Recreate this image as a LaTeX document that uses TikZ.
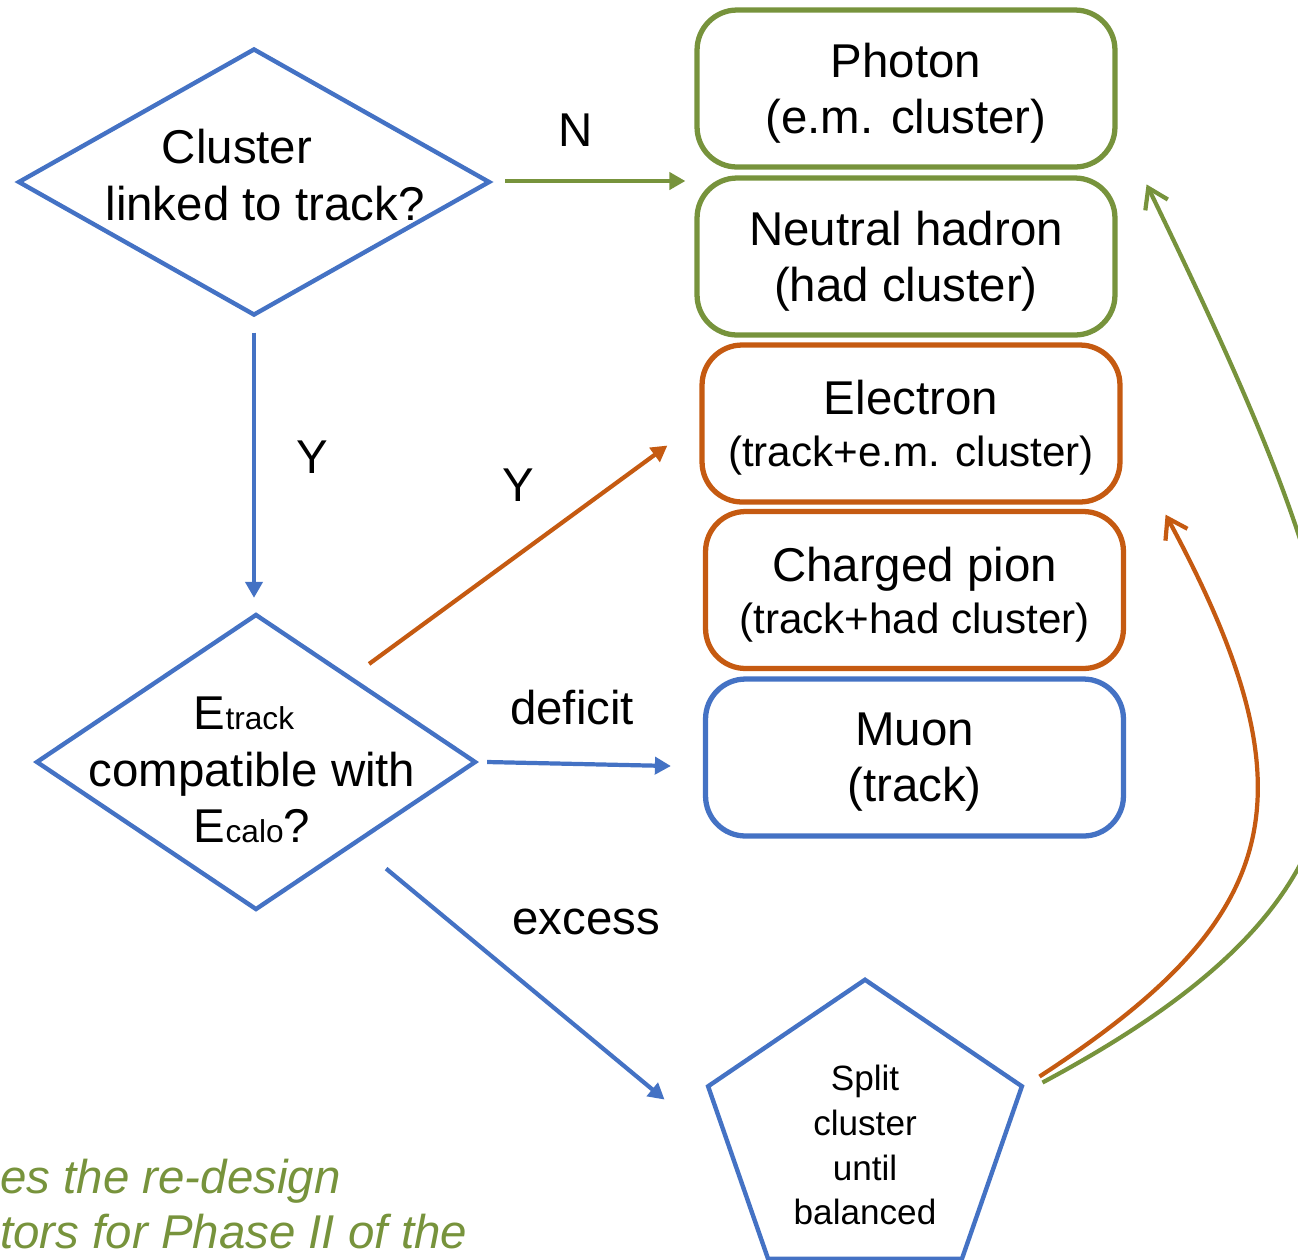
\documentclass[tikz,border=0pt]{standalone}
\usepackage{fontspec}
\setmainfont{Liberation Sans}
\usepackage{xcolor}
\definecolor{ppgreen}{RGB}{119,147,60}
\definecolor{pporange}{RGB}{197,90,17}
\definecolor{ppblue}{RGB}{68,114,196}
\usetikzlibrary{calc}
\usetikzlibrary{positioning}
\usetikzlibrary{shapes.geometric,arrows.meta}

\begin{document}
\begin{tikzpicture}[x=0.02cm, y=-0.02cm,
  every node/.style={font=\fontsize{27}{32}\selectfont},
  decision/.style={draw=ppblue, line width=2.5pt, diamond, inner sep=0pt},
  outcome/.style={line width=3pt, rounded corners=0.8cm, minimum width=8.36cm, minimum height=3.14cm, align=center, text depth=0pt},
  flow/.style={line width=2.4pt, -{Triangle[length=0.32cm,width=0.34cm]}},
  curvedflow/.style={line width=2.4pt, -{Straight Barb[length=0.38cm,width=0.5cm]}},
  lbl/.style={inner sep=0pt, text=black}]
  \useasboundingbox (0,0) rectangle (1298,1259);

  \node [decision, minimum width=9.44cm, minimum height=5.34cm,
    label={[align=center, xshift=0.22cm, yshift=0.14cm]center:Cluster\hspace*{1.12cm}\\linked to track?}] (clus) at (254,182) {};
  \node [decision, minimum width=8.8cm, minimum height=5.92cm,
    label={[align=center, xshift=-0.08cm, yshift=-0.16cm]center:E{\fontsize{18}{18}\selectfont track}\hspace*{0.32cm}\\compatible with\\E{\fontsize{18}{18}\selectfont calo}?}] (ecomp) at (256,762) {};

  \node [outcome, draw=ppgreen] (phot) at (906,88.5) {Photon\\(e.m. cluster)};
  \node [outcome, draw=ppgreen] (neut) at (906,256.5) {Neutral hadron\\(had cluster)};
  \node [outcome, draw=pporange] (elec) at (911,423.5) {Electron\\[-2.5pt]{\fontsize{24}{28}\selectfont(track+e.m. cluster)}};
  \node [outcome, draw=pporange] (pion) at (914.5,590) {Charged pion\\[-2.5pt]{\fontsize{24}{28}\selectfont(track+had cluster)}};
  \node [outcome, draw=ppblue] (muon) at (914.5,757.5) {Muon\\(track)};

  \begin{scope}[yscale=0.935]
    \node [draw=ppblue, line width=2.5pt, regular polygon, regular polygon sides=5, minimum size=6.6cm, inner sep=0pt, transform shape,
      label={[align=center, yshift=-0.22cm, font=\fontsize{20}{25.6}\selectfont]center:Split\\cluster\\until\\balanced}] (split) at (865,1212.8) {};
  \end{scope}

  \draw [flow, ppgreen] ($(clus.east)+(13,-1)$) -- ($(clus.east -| phot.west)+(-9,-1)$) node [lbl, midway, xshift=-0.4cm, yshift=1.02cm] {N};
  \draw [flow, ppblue] ($(clus.south)+(0,15)$) -- ($(ecomp.north)+(-2,-14)$) node [lbl, midway, right=0.8cm, yshift=0.16cm] {Y};
  \draw [flow, pporange] ($(ecomp.north)!.5!(ecomp.east)+(2,-23)$) -- ($(elec.west)+(-32,22)$) node [lbl, midway, yshift=1.4cm] {Y};
  \draw [flow, ppblue] ($(ecomp.east)+(9,0)$) -- ($(muon.west)+(-32,8.5)$) node [lbl, midway, xshift=-0.14cm, yshift=1.12cm] {deficit};
  \draw [flow, ppblue] ($(ecomp.south)!.5!(ecomp.east)+(19,31.5)$) -- ($(split.corner 2)+(-41,14)$) node [lbl, midway, xshift=1.22cm, yshift=1.24cm] {excess};

  \draw [curvedflow, pporange] ($(split.corner 5)+(15,-9)$) .. controls (1280,920) and (1320,800) .. ($(elec.south east)+(43,10)$);
  \draw [curvedflow, ppgreen] ($(split.corner 5)+(18,-3)$) .. controls (1440,870) and (1387,680) .. ($(neut.north east)+(29,9)$);

  \node [lbl, anchor=north west, align=left, text=ppgreen, font=\fontsize{27}{31}\selectfont\itshape] (note) at (0,1159) {es the re-design\\tors for Phase II of the};
\end{tikzpicture}
\end{document}
